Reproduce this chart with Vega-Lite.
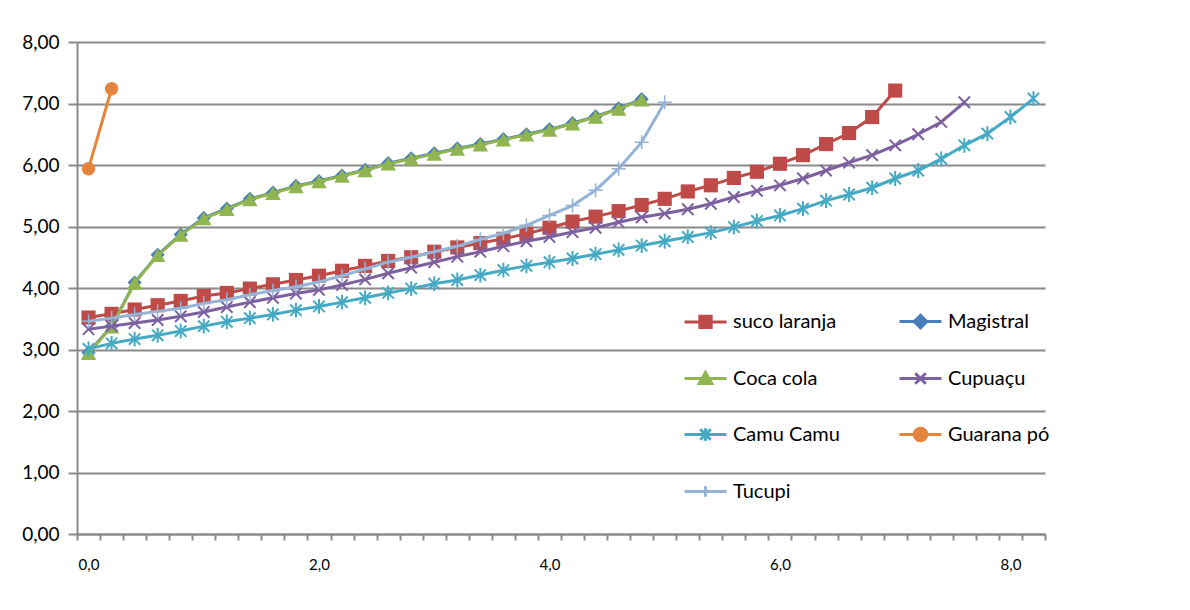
{
  "$schema": "https://vega.github.io/schema/vega-lite/v6.json",
  "width": 968,
  "height": 492,
  "autosize": {"type": "none"},
  "padding": {"left": 77, "top": 42, "right": 145, "bottom": 76},
  "background": "white",
  "config": {
    "view": {"stroke": null},
    "locale": {"number": {"decimal": ",", "thousands": ".", "grouping": [3], "currency": ["", ""]}},
    "font": "Lato"
  },
  "datasets": {
    "d": [
      {"s": "suco laranja", "x": 0, "y": 3.52}, {"s": "suco laranja", "x": 0.2, "y": 3.58}, {"s": "suco laranja", "x": 0.4, "y": 3.65}, {"s": "suco laranja", "x": 0.6, "y": 3.72}, {"s": "suco laranja", "x": 0.8, "y": 3.79}, {"s": "suco laranja", "x": 1.0, "y": 3.87}, {"s": "suco laranja", "x": 1.2, "y": 3.92}, {"s": "suco laranja", "x": 1.4, "y": 3.99}, {"s": "suco laranja", "x": 1.6, "y": 4.06}, {"s": "suco laranja", "x": 1.8, "y": 4.13}, {"s": "suco laranja", "x": 2.0, "y": 4.20}, {"s": "suco laranja", "x": 2.2, "y": 4.28}, {"s": "suco laranja", "x": 2.4, "y": 4.36}, {"s": "suco laranja", "x": 2.6, "y": 4.44}, {"s": "suco laranja", "x": 2.8, "y": 4.50}, {"s": "suco laranja", "x": 3.0, "y": 4.59}, {"s": "suco laranja", "x": 3.2, "y": 4.66}, {"s": "suco laranja", "x": 3.4, "y": 4.73}, {"s": "suco laranja", "x": 3.6, "y": 4.80}, {"s": "suco laranja", "x": 3.8, "y": 4.88}, {"s": "suco laranja", "x": 4.0, "y": 4.98}, {"s": "suco laranja", "x": 4.2, "y": 5.08}, {"s": "suco laranja", "x": 4.4, "y": 5.16}, {"s": "suco laranja", "x": 4.6, "y": 5.25}, {"s": "suco laranja", "x": 4.8, "y": 5.35}, {"s": "suco laranja", "x": 5.0, "y": 5.45}, {"s": "suco laranja", "x": 5.2, "y": 5.57}, {"s": "suco laranja", "x": 5.4, "y": 5.67}, {"s": "suco laranja", "x": 5.6, "y": 5.79}, {"s": "suco laranja", "x": 5.8, "y": 5.89}, {"s": "suco laranja", "x": 6.0, "y": 6.02}, {"s": "suco laranja", "x": 6.2, "y": 6.16}, {"s": "suco laranja", "x": 6.4, "y": 6.34}, {"s": "suco laranja", "x": 6.6, "y": 6.52}, {"s": "suco laranja", "x": 6.8, "y": 6.78}, {"s": "suco laranja", "x": 7.0, "y": 7.21},

      {"s": "Magistral", "x": 0, "y": 2.95}, {"s": "Magistral", "x": 0.2, "y": 3.38}, {"s": "Magistral", "x": 0.4, "y": 4.09}, {"s": "Magistral", "x": 0.6, "y": 4.54}, {"s": "Magistral", "x": 0.8, "y": 4.87}, {"s": "Magistral", "x": 1.0, "y": 5.14}, {"s": "Magistral", "x": 1.2, "y": 5.29}, {"s": "Magistral", "x": 1.4, "y": 5.45}, {"s": "Magistral", "x": 1.6, "y": 5.55}, {"s": "Magistral", "x": 1.8, "y": 5.66}, {"s": "Magistral", "x": 2.0, "y": 5.74}, {"s": "Magistral", "x": 2.2, "y": 5.83}, {"s": "Magistral", "x": 2.4, "y": 5.92}, {"s": "Magistral", "x": 2.6, "y": 6.03}, {"s": "Magistral", "x": 2.8, "y": 6.11}, {"s": "Magistral", "x": 3.0, "y": 6.19}, {"s": "Magistral", "x": 3.2, "y": 6.27}, {"s": "Magistral", "x": 3.4, "y": 6.34}, {"s": "Magistral", "x": 3.6, "y": 6.42}, {"s": "Magistral", "x": 3.8, "y": 6.50}, {"s": "Magistral", "x": 4.0, "y": 6.58}, {"s": "Magistral", "x": 4.2, "y": 6.68}, {"s": "Magistral", "x": 4.4, "y": 6.79}, {"s": "Magistral", "x": 4.6, "y": 6.92}, {"s": "Magistral", "x": 4.8, "y": 7.07},

      {"s": "Coca cola", "x": 0, "y": 2.94}, {"s": "Coca cola", "x": 0.2, "y": 3.37}, {"s": "Coca cola", "x": 0.4, "y": 4.08}, {"s": "Coca cola", "x": 0.6, "y": 4.53}, {"s": "Coca cola", "x": 0.8, "y": 4.86}, {"s": "Coca cola", "x": 1.0, "y": 5.13}, {"s": "Coca cola", "x": 1.2, "y": 5.28}, {"s": "Coca cola", "x": 1.4, "y": 5.44}, {"s": "Coca cola", "x": 1.6, "y": 5.54}, {"s": "Coca cola", "x": 1.8, "y": 5.65}, {"s": "Coca cola", "x": 2.0, "y": 5.73}, {"s": "Coca cola", "x": 2.2, "y": 5.82}, {"s": "Coca cola", "x": 2.4, "y": 5.91}, {"s": "Coca cola", "x": 2.6, "y": 6.02}, {"s": "Coca cola", "x": 2.8, "y": 6.10}, {"s": "Coca cola", "x": 3.0, "y": 6.18}, {"s": "Coca cola", "x": 3.2, "y": 6.26}, {"s": "Coca cola", "x": 3.4, "y": 6.33}, {"s": "Coca cola", "x": 3.6, "y": 6.41}, {"s": "Coca cola", "x": 3.8, "y": 6.49}, {"s": "Coca cola", "x": 4.0, "y": 6.57}, {"s": "Coca cola", "x": 4.2, "y": 6.67}, {"s": "Coca cola", "x": 4.4, "y": 6.78}, {"s": "Coca cola", "x": 4.6, "y": 6.91}, {"s": "Coca cola", "x": 4.8, "y": 7.06},

      {"s": "Cupuaçu", "x": 0, "y": 3.33}, {"s": "Cupuaçu", "x": 0.2, "y": 3.38}, {"s": "Cupuaçu", "x": 0.4, "y": 3.43}, {"s": "Cupuaçu", "x": 0.6, "y": 3.48}, {"s": "Cupuaçu", "x": 0.8, "y": 3.54}, {"s": "Cupuaçu", "x": 1.0, "y": 3.61}, {"s": "Cupuaçu", "x": 1.2, "y": 3.69}, {"s": "Cupuaçu", "x": 1.4, "y": 3.77}, {"s": "Cupuaçu", "x": 1.6, "y": 3.84}, {"s": "Cupuaçu", "x": 1.8, "y": 3.91}, {"s": "Cupuaçu", "x": 2.0, "y": 3.97}, {"s": "Cupuaçu", "x": 2.2, "y": 4.05}, {"s": "Cupuaçu", "x": 2.4, "y": 4.14}, {"s": "Cupuaçu", "x": 2.6, "y": 4.24}, {"s": "Cupuaçu", "x": 2.8, "y": 4.33}, {"s": "Cupuaçu", "x": 3.0, "y": 4.42}, {"s": "Cupuaçu", "x": 3.2, "y": 4.51}, {"s": "Cupuaçu", "x": 3.4, "y": 4.59}, {"s": "Cupuaçu", "x": 3.6, "y": 4.68}, {"s": "Cupuaçu", "x": 3.8, "y": 4.76}, {"s": "Cupuaçu", "x": 4.0, "y": 4.83}, {"s": "Cupuaçu", "x": 4.2, "y": 4.91}, {"s": "Cupuaçu", "x": 4.4, "y": 4.98}, {"s": "Cupuaçu", "x": 4.6, "y": 5.07}, {"s": "Cupuaçu", "x": 4.8, "y": 5.15}, {"s": "Cupuaçu", "x": 5.0, "y": 5.21}, {"s": "Cupuaçu", "x": 5.2, "y": 5.28}, {"s": "Cupuaçu", "x": 5.4, "y": 5.37}, {"s": "Cupuaçu", "x": 5.6, "y": 5.48}, {"s": "Cupuaçu", "x": 5.8, "y": 5.58}, {"s": "Cupuaçu", "x": 6.0, "y": 5.67}, {"s": "Cupuaçu", "x": 6.2, "y": 5.78}, {"s": "Cupuaçu", "x": 6.4, "y": 5.91}, {"s": "Cupuaçu", "x": 6.6, "y": 6.04}, {"s": "Cupuaçu", "x": 6.8, "y": 6.16}, {"s": "Cupuaçu", "x": 7.0, "y": 6.32}, {"s": "Cupuaçu", "x": 7.2, "y": 6.50}, {"s": "Cupuaçu", "x": 7.4, "y": 6.70}, {"s": "Cupuaçu", "x": 7.6, "y": 7.02},

      {"s": "Camu Camu", "x": 0, "y": 3.01}, {"s": "Camu Camu", "x": 0.2, "y": 3.10}, {"s": "Camu Camu", "x": 0.4, "y": 3.17}, {"s": "Camu Camu", "x": 0.6, "y": 3.23}, {"s": "Camu Camu", "x": 0.8, "y": 3.30}, {"s": "Camu Camu", "x": 1.0, "y": 3.38}, {"s": "Camu Camu", "x": 1.2, "y": 3.45}, {"s": "Camu Camu", "x": 1.4, "y": 3.51}, {"s": "Camu Camu", "x": 1.6, "y": 3.57}, {"s": "Camu Camu", "x": 1.8, "y": 3.64}, {"s": "Camu Camu", "x": 2.0, "y": 3.70}, {"s": "Camu Camu", "x": 2.2, "y": 3.77}, {"s": "Camu Camu", "x": 2.4, "y": 3.84}, {"s": "Camu Camu", "x": 2.6, "y": 3.92}, {"s": "Camu Camu", "x": 2.8, "y": 3.99}, {"s": "Camu Camu", "x": 3.0, "y": 4.07}, {"s": "Camu Camu", "x": 3.2, "y": 4.13}, {"s": "Camu Camu", "x": 3.4, "y": 4.21}, {"s": "Camu Camu", "x": 3.6, "y": 4.29}, {"s": "Camu Camu", "x": 3.8, "y": 4.36}, {"s": "Camu Camu", "x": 4.0, "y": 4.42}, {"s": "Camu Camu", "x": 4.2, "y": 4.48}, {"s": "Camu Camu", "x": 4.4, "y": 4.55}, {"s": "Camu Camu", "x": 4.6, "y": 4.62}, {"s": "Camu Camu", "x": 4.8, "y": 4.69}, {"s": "Camu Camu", "x": 5.0, "y": 4.76}, {"s": "Camu Camu", "x": 5.2, "y": 4.83}, {"s": "Camu Camu", "x": 5.4, "y": 4.90}, {"s": "Camu Camu", "x": 5.6, "y": 4.99}, {"s": "Camu Camu", "x": 5.8, "y": 5.09}, {"s": "Camu Camu", "x": 6.0, "y": 5.18}, {"s": "Camu Camu", "x": 6.2, "y": 5.29}, {"s": "Camu Camu", "x": 6.4, "y": 5.42}, {"s": "Camu Camu", "x": 6.6, "y": 5.52}, {"s": "Camu Camu", "x": 6.8, "y": 5.63}, {"s": "Camu Camu", "x": 7.0, "y": 5.78}, {"s": "Camu Camu", "x": 7.2, "y": 5.91}, {"s": "Camu Camu", "x": 7.4, "y": 6.10}, {"s": "Camu Camu", "x": 7.6, "y": 6.32}, {"s": "Camu Camu", "x": 7.8, "y": 6.51}, {"s": "Camu Camu", "x": 8.0, "y": 6.78}, {"s": "Camu Camu", "x": 8.2, "y": 7.08},

      {"s": "Guarana pó", "x": 0, "y": 5.94}, {"s": "Guarana pó", "x": 0.2, "y": 7.24},

      {"s": "Tucupi", "x": 0, "y": 3.46}, {"s": "Tucupi", "x": 0.2, "y": 3.51}, {"s": "Tucupi", "x": 0.4, "y": 3.57}, {"s": "Tucupi", "x": 0.6, "y": 3.62}, {"s": "Tucupi", "x": 0.8, "y": 3.67}, {"s": "Tucupi", "x": 1.0, "y": 3.75}, {"s": "Tucupi", "x": 1.2, "y": 3.81}, {"s": "Tucupi", "x": 1.4, "y": 3.89}, {"s": "Tucupi", "x": 1.6, "y": 3.96}, {"s": "Tucupi", "x": 1.8, "y": 4.02}, {"s": "Tucupi", "x": 2.0, "y": 4.10}, {"s": "Tucupi", "x": 2.2, "y": 4.20}, {"s": "Tucupi", "x": 2.4, "y": 4.31}, {"s": "Tucupi", "x": 2.6, "y": 4.42}, {"s": "Tucupi", "x": 2.8, "y": 4.50}, {"s": "Tucupi", "x": 3.0, "y": 4.59}, {"s": "Tucupi", "x": 3.2, "y": 4.68}, {"s": "Tucupi", "x": 3.4, "y": 4.79}, {"s": "Tucupi", "x": 3.6, "y": 4.89}, {"s": "Tucupi", "x": 3.8, "y": 5.02}, {"s": "Tucupi", "x": 4.0, "y": 5.18}, {"s": "Tucupi", "x": 4.2, "y": 5.34}, {"s": "Tucupi", "x": 4.4, "y": 5.59}, {"s": "Tucupi", "x": 4.6, "y": 5.94}, {"s": "Tucupi", "x": 4.8, "y": 6.37}, {"s": "Tucupi", "x": 5.0, "y": 7.02}
    ]
  },
  "data": {"name": "d"},
  "encoding": {
    "x": {
      "field": "x", "type": "quantitative",
      "scale": {"domain": [-0.1, 8.3], "nice": false, "zero": false},
      "axis": {
        "title": null,
        "values": [-0.1, 0, 0.1, 0.3, 0.5, 0.7, 0.9, 1.1, 1.3, 1.5, 1.7, 1.9, 2, 2.1, 2.3, 2.5, 2.7, 2.9, 3.1, 3.3, 3.5, 3.7, 3.9, 4, 4.1, 4.3, 4.5, 4.7, 4.9, 5.1, 5.3, 5.5, 5.7, 5.9, 6, 6.1, 6.3, 6.5, 6.7, 6.9, 7.1, 7.3, 7.5, 7.7, 7.9, 8, 8.1, 8.3],
        "format": ".1f",
        "labelExpr": "indexof([0,2,4,6,8], datum.value) >= 0 ? datum.label : ''",
        "labelOverlap": false, "labelFlush": false, "labelBound": false,
        "labelFont": "Lato", "labelFontSize": 15, "labelColor": "#000000", "labelPadding": 17,
        "tickOpacity": {"condition": {"test": "indexof([0,2,4,6,8], datum.value) >= 0", "value": 0}, "value": 1},
        "tickColor": "#8a8a8a", "tickWidth": 2, "tickSize": 6,
        "domainColor": "#8a8a8a", "domainWidth": 2,
        "grid": false
      }
    },
    "y": {
      "field": "y", "type": "quantitative",
      "scale": {"domain": [0, 8], "nice": false, "zero": true},
      "axis": {
        "title": null,
        "values": [0, 1, 2, 3, 4, 5, 6, 7, 8],
        "format": ".2f",
        "labelFont": "Lato", "labelFontSize": 19, "labelColor": "#000000", "labelPadding": 9,
        "tickColor": "#8a8a8a", "tickWidth": 2, "tickSize": 9,
        "domainColor": "#8a8a8a", "domainWidth": 2,
        "grid": true, "gridColor": "#8a8a8a", "gridWidth": 2
      }
    }
  },
  "layer": [
    {
      "transform": [{"filter": "datum.s === 'suco laranja'"}],
      "layer": [
        {"mark": {"type": "line", "color": "#BE4B48", "strokeWidth": 3}},
        {"mark": {"type": "point", "shape": "square", "filled": true, "size": 200, "color": "#BE4B48", "opacity": 1}}
      ]
    },
    {
      "transform": [{"filter": "datum.s === 'Magistral'"}],
      "layer": [
        {"mark": {"type": "line", "color": "#4A7EBB", "strokeWidth": 3}},
        {"mark": {"type": "point", "shape": "diamond", "filled": true, "size": 200, "color": "#4A7EBB", "opacity": 1}}
      ]
    },
    {
      "transform": [{"filter": "datum.s === 'Coca cola'"}],
      "layer": [
        {"mark": {"type": "line", "color": "#8FB450", "strokeWidth": 3}},
        {"mark": {"type": "point", "shape": "triangle-up", "filled": true, "size": 240, "color": "#8FB450", "opacity": 1}}
      ]
    },
    {
      "transform": [{"filter": "datum.s === 'Cupuaçu'"}],
      "layer": [
        {"mark": {"type": "line", "color": "#7D60A0", "strokeWidth": 3}},
        {"mark": {"type": "point", "shape": "M-1,-1L1,1M-1,1L1,-1", "filled": false, "size": 130, "strokeWidth": 2, "color": "#7D60A0", "opacity": 1}}
      ]
    },
    {
      "transform": [{"filter": "datum.s === 'Camu Camu'"}],
      "layer": [
        {"mark": {"type": "line", "color": "#46AAC5", "strokeWidth": 3}},
        {"mark": {"type": "point", "shape": "M-1,-1L1,1M-1,1L1,-1M0,-1.3L0,1.3", "filled": false, "size": 130, "strokeWidth": 2, "color": "#46AAC5", "opacity": 1}}
      ]
    },
    {
      "transform": [{"filter": "datum.s === 'Guarana pó'"}],
      "layer": [
        {"mark": {"type": "line", "color": "#E5843C", "strokeWidth": 3}},
        {"mark": {"type": "point", "shape": "circle", "filled": true, "size": 180, "color": "#E5843C", "opacity": 1}}
      ]
    },
    {
      "transform": [{"filter": "datum.s === 'Tucupi'"}],
      "layer": [
        {"mark": {"type": "line", "color": "#95B3D7", "strokeWidth": 3}},
        {"mark": {"type": "point", "shape": "M-1,0L1,0M0,-1L0,1", "filled": false, "size": 200, "strokeWidth": 1.5, "color": "#95B3D7", "opacity": 1}}
      ]
    },
    {
      "mark": {"type": "point", "filled": true, "opacity": 0, "size": 0},
      "encoding": {
        "fill": {
          "field": "s", "type": "nominal",
          "scale": {"domain": ["suco laranja", "Magistral", "Coca cola", "Cupuaçu", "Camu Camu", "Guarana pó", "Tucupi"],
                    "range": ["#BE4B48", "#4A7EBB", "#8FB450", "#7D60A0", "#46AAC5", "#E5843C", "#95B3D7"]},
          "legend": {
            "title": null, "orient": "none", "legendX": 606, "legendY": 257,
            "direction": "horizontal",
            "columns": 2, "columnPadding": 53, "rowPadding": 22, "padding": 0,
            "symbolSize": 1764, "symbolStrokeWidth": 3, "symbolOpacity": 1,
            "labelFont": "Lato", "labelFontSize": 20, "labelColor": "#000000", "labelOffset": 5, "labelLimit": 300,
            "encode": {"symbols": {"update": {"opacity": {"value": 1}, "size": {"value": 1764}, "strokeWidth": {"value": 3}}}}
          }
        },
        "stroke": {
          "field": "s", "type": "nominal",
          "scale": {"domain": ["suco laranja", "Magistral", "Coca cola", "Cupuaçu", "Camu Camu", "Guarana pó", "Tucupi"],
                    "range": ["#BE4B48", "#4A7EBB", "#8FB450", "#7D60A0", "#46AAC5", "#E5843C", "#95B3D7"]}
        },
        "shape": {
          "field": "s", "type": "nominal",
          "scale": {"domain": ["suco laranja", "Magistral", "Coca cola", "Cupuaçu", "Camu Camu", "Guarana pó", "Tucupi"],
                    "range": [
                      "M-1,0L1,0M-0.27,-0.27L0.27,-0.27L0.27,0.27L-0.27,0.27Z",
                      "M-1,0L1,0M0,-0.3L0.3,0L0,0.3L-0.3,0Z",
                      "M-1,0L1,0M0,-0.28L0.3,0.24L-0.3,0.24Z",
                      "M-1,0L1,0M-0.25,-0.25L0.25,0.25M-0.25,0.25L0.25,-0.25",
                      "M-1,0L1,0M-0.25,-0.25L0.25,0.25M-0.25,0.25L0.25,-0.25M0,-0.3L0,0.3",
                      "M-1,0L1,0M-0.3,0A0.3,0.3 0 1,1 0.3,0A0.3,0.3 0 1,1 -0.3,0Z",
                      "M-1,0L1,0M0,-0.25L0,0.25"
                    ]}
        }
      }
    }
  ]
}
